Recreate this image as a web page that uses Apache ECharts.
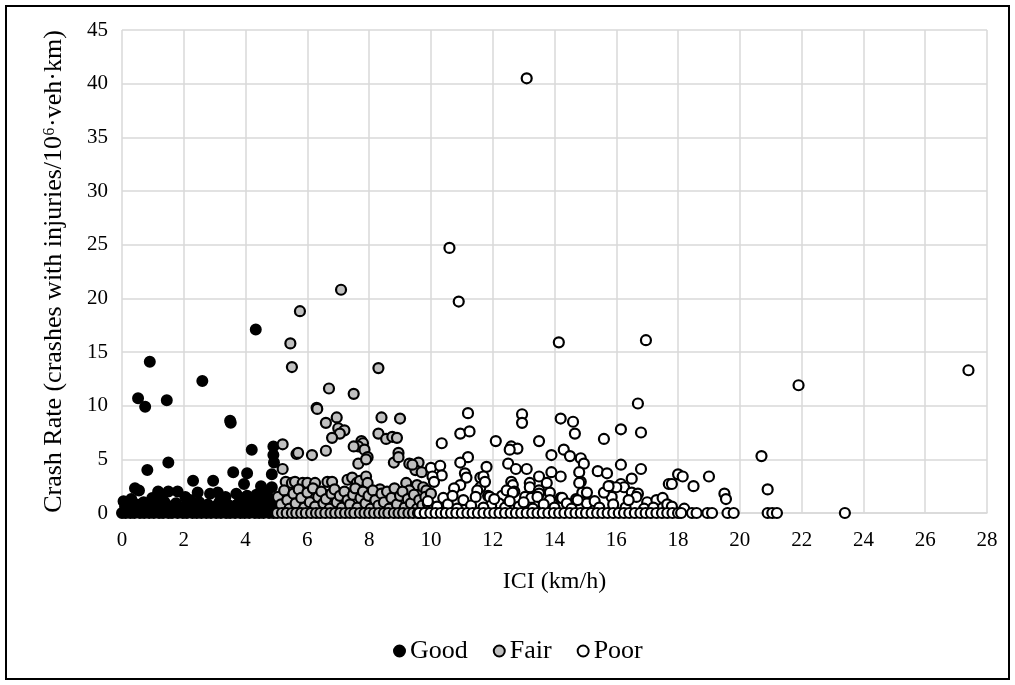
<!DOCTYPE html>
<html>
<head>
<meta charset="utf-8">
<script src="https://cdn.jsdelivr.net/npm/echarts@6/dist/echarts.min.js"></script>
<style>html,body{margin:0;padding:0;background:#fff;}#c{width:1015px;height:685px;}</style>
</head>
<body>
<div id="c"></div>
<script>
const xTicks = [0,2,4,6,8,10,12,14,16,18,20,22,24,26,28];
const yTicks = [0,5,10,15,20,25,30,35,40,45];
const seriesNames = ['Good','Fair','Poor'];

const goodPoints = [
[0.9,14.1],[4.33,17.1],[2.6,12.3],[0.52,10.7],[0.75,9.9],[1.45,10.5],[3.5,8.6],[3.52,8.4],[4.2,5.9],[4.9,6.2],[4.9,5.4],[4.92,4.7],[4.85,3.6],[0.82,4.0],[1.5,4.7],[3.6,3.8],[4.05,3.7],[2.3,3.0],[2.95,3.0],[3.95,2.7],[4.5,2.5],[4.85,2.4],[0.42,2.3],[0.55,2.1],[1.17,2.0],[1.5,2.0],[1.8,2.0],[2.45,1.9],[2.85,1.8],[3.1,1.9],[3.7,1.8],[4.05,1.6],[4.35,1.7],[4.7,2.0],[4.6,1.5],[0.05,1.1],[0.3,1.3],[0.98,1.4],[1.3,1.6],[2.05,1.5],[2.2,1.2],[3.35,1.5],[3.85,1.4],[4.15,1.2],[4.75,1.4],
[0.1,0.6],[0.2,0.9],[0.35,0.4],[0.48,0.8],[0.63,0.5],[0.7,1.0],[0.85,0.3],[1.0,0.7],[1.12,0.9],[1.25,0.4],[1.38,1.0],[1.55,0.6],[1.68,0.3],[1.75,0.9],[1.92,0.5],[2.08,0.8],[2.18,0.3],[2.35,0.7],[2.5,1.0],[2.62,0.4],[2.78,0.8],[2.9,0.3],[3.02,0.6],[3.15,1.0],[3.28,0.5],[3.42,0.8],[3.55,0.3],[3.68,0.7],[3.8,1.0],[3.93,0.4],[4.08,0.8],[4.22,0.5],[4.38,0.9],[4.48,0.3],[4.6,0.7],[4.72,0.4],[4.82,0.9],[4.95,0.6],[4.98,1.2],
[0.0,0],[0.12,0],[0.27,0],[0.4,0],[0.58,0],[0.72,0],[0.88,0],[1.03,0],[1.2,0],[1.33,0],[1.5,0],[1.62,0],[1.8,0],[1.97,0],[2.1,0],[2.28,0],[2.42,0],[2.57,0],[2.73,0],[2.88,0],[3.05,0],[3.2,0],[3.37,0],[3.5,0],[3.66,0],[3.83,0],[3.97,0],[4.12,0],[4.3,0],[4.44,0],[4.58,0],[4.76,0],[4.9,0]
];

const fairPoints = [
[5.76,18.8],[7.09,20.8],[5.45,15.8],[5.5,13.6],[8.3,13.5],[6.7,11.6],[7.5,11.1],[6.3,9.8],[6.32,9.7],[6.95,8.9],[6.6,8.4],[7.0,7.9],[7.2,7.7],[7.05,7.4],[6.8,7.0],[8.4,8.9],[9.0,8.8],[8.3,7.4],[8.55,6.9],[8.75,7.1],[8.9,7.0],[7.75,6.7],[7.8,6.5],[7.65,6.2],[7.5,6.2],[7.85,5.9],[7.95,5.2],[7.65,4.6],[6.6,5.8],[6.15,5.4],[5.65,5.5],[5.7,5.6],[5.2,6.4],[5.2,4.1],[8.95,5.6],[8.8,4.7],[9.3,4.6],[9.6,4.7],[9.5,4.0],[9.7,3.8],[7.9,5.0],[8.95,5.2],[9.4,4.5],
[5.3,2.9],[5.5,2.8],[5.6,2.9],[5.85,2.8],[6.0,2.8],[6.25,2.8],[6.65,2.9],[6.8,2.9],[7.3,3.1],[7.45,3.3],[7.6,2.8],[7.7,3.0],[7.9,3.4],[7.95,2.8],[8.35,2.2],[9.2,2.8],[9.55,2.6],[9.3,2.1],[9.75,2.4],[9.85,2.1],
[5.05,1.5],[5.15,0.8],[5.25,2.1],[5.35,1.2],[5.42,0.4],[5.55,1.8],[5.62,0.9],[5.72,2.2],[5.8,1.4],[5.9,0.5],[6.0,1.9],[6.08,1.0],[6.18,2.3],[6.25,0.6],[6.35,1.5],[6.45,2.0],[6.52,0.9],[6.6,1.3],[6.72,0.4],[6.78,1.8],[6.88,2.2],[6.95,1.0],[7.05,1.6],[7.12,0.5],[7.2,2.0],[7.3,1.2],[7.38,0.8],[7.48,1.7],[7.55,2.3],[7.62,0.5],[7.72,1.4],[7.8,2.0],[7.88,0.9],[7.98,1.6],[8.05,0.4],[8.12,2.1],[8.2,1.2],[8.3,0.7],[8.4,1.8],[8.48,1.0],[8.58,2.0],[8.65,0.4],[8.72,1.4],[8.82,2.3],[8.9,0.8],[9.0,1.6],[9.08,2.0],[9.15,0.5],[9.25,1.3],[9.35,0.9],[9.45,1.7],[9.55,0.4],[9.62,1.2],[9.72,0.7],[9.82,1.5],[9.9,0.9],[10.0,1.8],[10.1,0.5],
[5.02,0],[5.18,0],[5.33,0],[5.5,0],[5.64,0],[5.8,0],[5.95,0],[6.12,0],[6.28,0],[6.42,0],[6.58,0],[6.75,0],[6.9,0],[7.06,0],[7.22,0],[7.38,0],[7.52,0],[7.7,0],[7.85,0],[8.0,0],[8.16,0],[8.32,0],[8.48,0],[8.62,0],[8.8,0],[8.95,0],[9.1,0],[9.27,0],[9.42,0],[9.58,0],[9.75,0]
];

const poorPoints = [
[13.1,40.5],[10.6,24.7],[10.9,19.7],[14.14,15.9],[16.96,16.1],[27.4,13.3],[21.9,11.9],[16.7,10.2],[12.95,9.2],[12.95,8.4],[11.2,9.3],[14.2,8.8],[14.6,8.5],[14.66,7.4],[16.15,7.8],[16.8,7.5],[10.95,7.4],[11.25,7.6],[12.1,6.7],[13.5,6.7],[15.6,6.9],[10.35,6.5],[12.6,6.2],[12.8,6.0],[12.55,5.9],[13.9,5.4],[14.3,5.9],[14.5,5.3],[14.85,5.1],[14.95,4.6],[11.2,5.2],[10.95,4.7],[20.7,5.3],[20.9,2.2],[19.0,3.4],[19.5,1.8],[19.55,1.3],
[11.8,4.3],[12.5,4.6],[12.75,4.1],[13.1,4.1],[13.5,3.4],[13.9,3.8],[14.2,3.4],[14.8,3.8],[14.85,2.9],[15.4,3.9],[15.7,3.7],[16.15,4.5],[16.8,4.1],[18.0,3.6],[18.15,3.4],[18.5,2.5],[17.7,2.7],[17.8,2.7],[16.5,3.2],[16.15,2.7],[16.25,2.4],[15.8,2.5],[15.85,1.5],[15.6,1.9],[16.5,1.9],[16.7,1.8],[16.65,1.5],[17.0,1.0],[17.3,1.2],[17.5,1.4],[17.65,0.8],[17.8,0.6],[12.6,2.9],[12.65,2.6],[12.7,2.0],[13.2,2.8],[13.2,2.4],[13.5,2.1],[13.5,1.8],[13.75,2.8],[13.85,1.9],[13.85,1.2],[13.1,1.5],[13.4,1.0],[14.2,1.4],[14.7,1.3],[14.9,1.9],[15.05,1.9],[15.05,0.9],[11.6,3.3],[11.7,3.4],[11.6,2.4],[11.85,1.6],[11.9,1.5],[12.3,1.6],[12.2,0.9],[11.95,0.7],[10.0,4.2],[10.3,4.4],[10.35,3.5],[10.05,3.4],[10.1,2.9],[11.1,3.7],[11.15,3.3],[10.95,2.6],[10.75,2.3],[11.75,2.9],[11.5,2.1],[12.45,2.1],[12.65,1.9],[13.05,1.5],[13.25,1.4],[13.45,1.5],[14.25,1.4],[14.75,1.2],[16.0,2.4],[15.75,2.5],[14.8,2.8],
[9.9,1.1],[10.2,0.6],[10.4,1.4],[10.55,0.8],[10.7,1.6],[10.85,0.4],[11.05,1.2],[11.3,0.7],[11.45,1.5],[11.7,0.5],[12.05,1.3],[12.4,0.5],[12.55,1.1],[12.85,0.6],[13.0,1.0],[13.3,0.4],[13.65,0.8],[14.0,0.5],[14.4,0.9],[14.55,0.4],[15.3,1.1],[15.45,0.5],[15.9,0.8],[16.3,0.5],[16.4,1.2],[16.9,0.4],[17.2,0.5],[18.2,0.4],
[9.62,0],[9.8,0],[9.98,0],[10.15,0],[10.32,0],[10.48,0],[10.65,0],[10.82,0],[11.0,0],[11.18,0],[11.35,0],[11.52,0],[11.7,0],[11.88,0],[12.05,0],[12.22,0],[12.4,0],[12.58,0],[12.75,0],[12.92,0],[13.1,0],[13.28,0],[13.45,0],[13.62,0],[13.8,0],[13.98,0],[14.15,0],[14.32,0],[14.5,0],[14.68,0],[14.85,0],[15.02,0],[15.2,0],[15.38,0],[15.55,0],[15.72,0],[15.9,0],[16.08,0],[16.25,0],[16.42,0],[16.6,0],[16.78,0],[16.95,0],[17.12,0],[17.3,0],[17.48,0],[17.65,0],[17.82,0],[18.0,0],[18.1,0],[18.45,0],[18.6,0],[18.95,0],[19.1,0],[19.6,0],[19.8,0],[20.9,0],[21.05,0],[21.2,0],[23.4,0]
];

const FONT = '"Liberation Serif", "Times New Roman", serif';
const chart = echarts.init(document.getElementById('c'), null, {renderer:'canvas'});
const gridLine = {show:true, lineStyle:{color:'#d9d9d9', width:1.5}};
const option = {
  animation:false,
  backgroundColor:'#ffffff',
  graphic:[{type:'rect', shape:{x:6,y:6,width:1003,height:673}, style:{fill:'none', stroke:'#000', lineWidth:2}, silent:true}],
  grid:{left:122, right:28, top:30, bottom:172},
  xAxis:{type:'value', min:0, max:28, interval:2,
    name:'ICI (km/h)', nameLocation:'middle', nameGap:57,
    nameTextStyle:{fontFamily:FONT, fontSize:24, color:'#000'},
    axisLine:{show:true, lineStyle:{color:'#d9d9d9', width:1.5}}, axisTick:{show:false},
    axisLabel:{fontFamily:FONT, fontSize:21, color:'#000', margin:17, formatter:v=>xTicks.includes(v)?String(v):''},
    splitLine:gridLine},
  yAxis:{type:'value', min:0, max:45, interval:5,
    name:'Crash Rate (crashes with injuries/10\u2076\u00b7veh\u00b7km)', nameLocation:'middle', nameGap:55,
    nameTextStyle:{fontFamily:FONT, fontSize:26, color:'#000'},
    axisLine:{show:false}, axisTick:{show:false},
    axisLabel:{fontFamily:FONT, fontSize:21, color:'#000', margin:14, formatter:v=>yTicks.includes(v)?String(v):''},
    splitLine:gridLine},
  legend:{data:seriesNames, left:388, top:633, icon:'circle', itemWidth:11, itemHeight:11, itemGap:25,
    textStyle:{fontFamily:FONT, fontSize:26, color:'#000'}},
  series:[
    {name:'Good', type:'scatter', clip:false, symbol:'circle', symbolSize:10, data:goodPoints,
      itemStyle:{color:'#000000', borderColor:'#000000', borderWidth:2, opacity:1}},
    {name:'Fair', type:'scatter', clip:false, symbol:'circle', symbolSize:10, data:fairPoints,
      itemStyle:{color:'#c0c0c0', borderColor:'#000000', borderWidth:2.2, opacity:1}},
    {name:'Poor', type:'scatter', clip:false, symbol:'circle', symbolSize:10, data:poorPoints,
      itemStyle:{color:'#ffffff', borderColor:'#000000', borderWidth:2.2, opacity:1}}
  ]
};
chart.setOption(option);
</script>
</body>
</html>
